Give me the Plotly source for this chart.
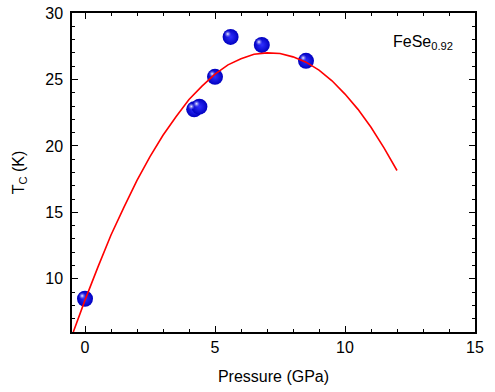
import plotly.graph_objects as go

# Measured data points (Pressure in GPa, Tc in K)
pressure = [0.0, 4.2, 4.4, 5.0, 5.6, 6.8, 8.5]
tc = [8.5, 22.75, 22.95, 25.2, 28.2, 27.6, 26.4]

# Fit curve
fit_p = [-0.45, 0.0, 0.5, 1.0, 1.5, 2.0, 2.5, 3.0, 3.5, 4.0, 4.5, 5.0, 5.5,
         6.0, 6.5, 7.0, 7.5, 8.0, 8.5, 9.0, 9.5, 10.0, 10.5, 11.0, 11.5, 12.0]
fit_tc = [6.0, 8.4, 10.9, 13.3, 15.4, 17.4, 19.2, 20.8, 22.2, 23.5, 24.5, 25.4, 26.1,
          26.55, 26.9, 27.0, 26.95, 26.7, 26.3, 25.7, 24.9, 23.9, 22.75, 21.4, 19.85, 18.15]

x_ticks = [0, 5, 10, 15]
y_ticks = [10, 15, 20, 25, 30]

FONT = "Liberation Sans, Arial, sans-serif"

fig = go.Figure()

# spheres
fig.add_trace(go.Scatter(
    x=pressure, y=tc, mode="markers",
    marker=dict(size=16, color="#0000c0",
                gradient=dict(type="radial", color="#3030ff"),
                line=dict(width=0)),
    showlegend=False, cliponaxis=False))
# highlight on spheres
fig.add_trace(go.Scatter(
    x=[p - 0.11 for p in pressure], y=[t + 0.22 for t in tc], mode="markers",
    marker=dict(size=7, color="rgba(120,120,255,0.0)",
                gradient=dict(type="radial", color="rgba(255,255,255,0.95)"),
                line=dict(width=0)),
    showlegend=False, hoverinfo="skip", cliponaxis=False))

# fit curve (drawn above markers)
fig.add_trace(go.Scatter(
    x=fit_p, y=fit_tc, mode="lines",
    line=dict(color="#ff0000", width=1.6),
    showlegend=False))

axis_common = dict(
    showline=True, linecolor="black", linewidth=1.5, mirror="ticks",
    ticks="inside", ticklen=6, tickwidth=1.3, tickcolor="black",
    showgrid=False, zeroline=False, automargin=False,
    tickfont=dict(family=FONT, size=16, color="black"),
)

fig.update_xaxes(
    range=[-0.5, 15], tickvals=x_ticks, ticktext=[str(v) for v in x_ticks],
    minor=dict(dtick=1, tick0=0, ticks="inside", ticklen=3, tickwidth=1.2, tickcolor="black"),
    title=dict(text="Pressure (GPa)", font=dict(family=FONT, size=16, color="black"), standoff=16),
    **axis_common)
fig.update_yaxes(
    range=[6, 30], tickvals=y_ticks, ticktext=[str(v) for v in y_ticks],
    minor=dict(dtick=1, tick0=0, ticks="inside", ticklen=3, tickwidth=1.2, tickcolor="black"),
    ticklabelstandoff=4,
    title=dict(text="T<sub>C</sub> (K)", font=dict(family=FONT, size=16, color="black"), standoff=17),
    **axis_common)

fig.add_annotation(
    x=0.95, y=0.945, xref="paper", yref="paper", xanchor="right", yanchor="top",
    text="FeSe<sub>0.92</sub>", showarrow=False,
    font=dict(family=FONT, size=16, color="black"))

fig.update_layout(
    width=495, height=392,
    margin=dict(l=72, r=20, t=13, b=60),
    paper_bgcolor="white", plot_bgcolor="white",
)

fig.write_html("out.html", config={"displayModeBar": False},
               post_script="document.body.style.margin='0';")
